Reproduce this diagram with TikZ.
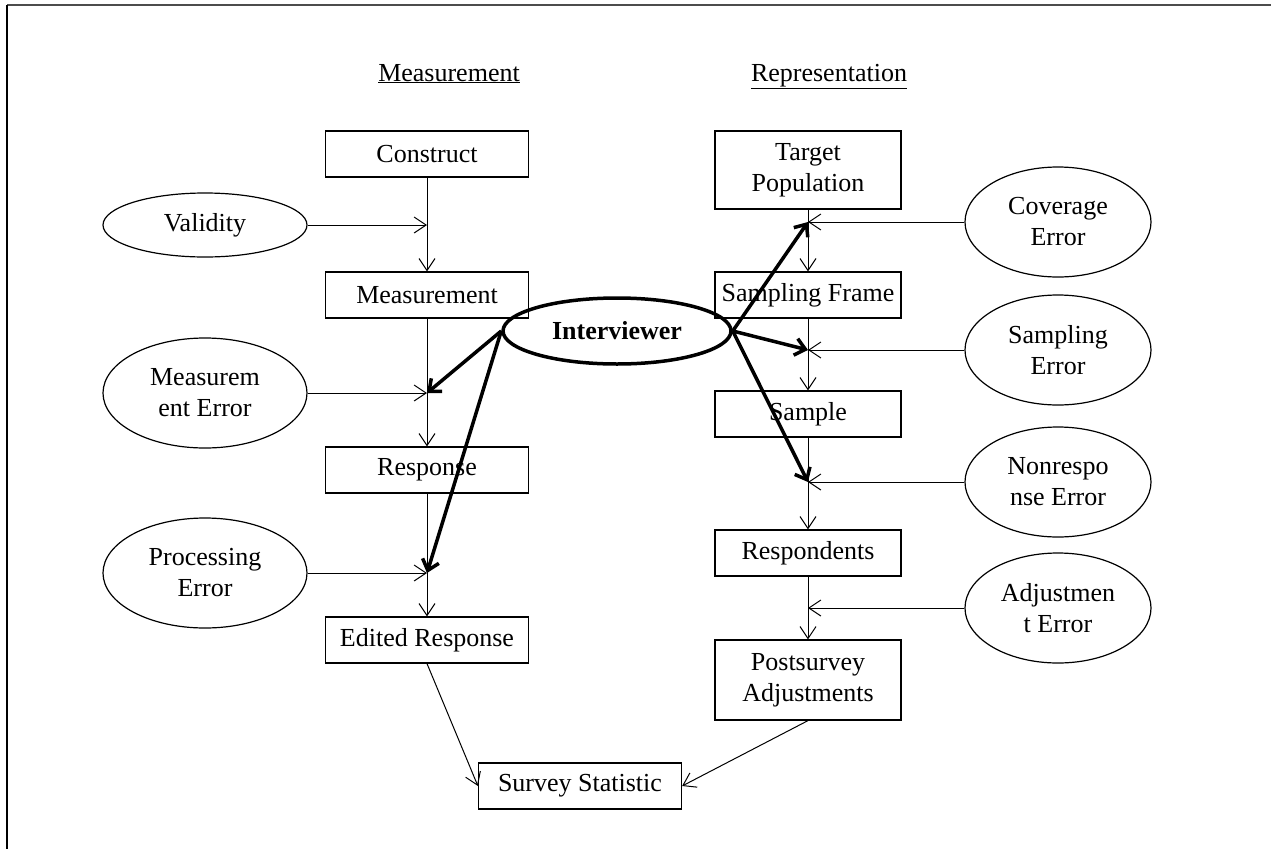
\documentclass[tikz,border=0pt]{standalone}
\usepackage{fontspec}
\setmainfont{Liberation Serif}
\usetikzlibrary{shapes.geometric,arrows.meta}

\begin{document}
\begin{tikzpicture}[x=1pt,y=-1pt,
  every node/.style={font=\fontsize{26}{31}\selectfont},
  box/.style={draw,line width=1.2pt,minimum height=46pt,align=center,inner sep=2pt},
  errbox/.style={draw,ellipse,line width=1.2pt,minimum width=204pt,minimum height=110pt,inner xsep=0pt,inner ysep=-14pt,align=center},
  flow/.style={line width=1pt,-{Straight Barb[length=12pt,width=16pt]}},
  iarr/.style={line width=3.5pt,-{Straight Barb[length=10pt,width=17pt]}}]
\useasboundingbox (0,0) rectangle (1271,849);
\draw[gray!60!black,line width=2pt] (7,5) -- (1271,5);
\draw[line width=2pt] (7,5) -- (7,849);

\node[anchor=base] (hm) at (449,81) {\underline{Measurement}};
\node[anchor=base] (hr) at (829,81) {\underline{Representation}};

% measurement side
\node[box,minimum width=203pt] (cons) at (427,154) {Construct};
\node[box,minimum width=203pt] (meas) at (427,295) {Measurement};
\node[box,minimum width=203pt] (resp) at (427,470) {Response};
\node[box,minimum width=203pt] (edit) at (427,640) {Edited Response};
\node[errbox,minimum height=64pt] (valid) at (205,225) {Validity};
\node[errbox] (merr) at (205,393) {Measurem\\ent Error};
\node[errbox] (perr) at (205,573) {Processing\\Error};

% representation side
\node[box,minimum width=186pt,minimum height=78pt] (tpop) at (808,170) {Target\\Population};
\node[box,minimum width=186pt] (frame) at (808,295) {Sampling Frame};
\node[box,minimum width=186pt] (samp) at (808,414) {Sample};
\node[box,minimum width=186pt] (resps) at (808,553) {Respondents};
\node[box,minimum width=186pt,minimum height=80pt] (post) at (808,680) {Postsurvey\\Adjustments};
\node[errbox,minimum width=186pt] (cerr) at (1058,222) {Coverage\\Error};
\node[errbox,minimum width=186pt] (serr) at (1058,350) {Sampling\\Error};
\node[errbox,minimum width=186pt] (nerr) at (1058,482) {Nonrespo\\nse Error};
\node[errbox,minimum width=186pt] (aerr) at (1058,608) {Adjustmen\\t Error};

\node[box,minimum width=203pt] (stat) at (580,786) {Survey Statistic};
\node[draw,ellipse,line width=3.5pt,minimum width=228pt,minimum height=66pt,
  font=\bfseries\fontsize{26}{31}\selectfont] (iv) at (617,331) {Interviewer};

\coordinate (jv) at (cons.south |- valid.east);
\coordinate (jme) at (cons.south |- merr.east);
\coordinate (jpe) at (cons.south |- perr.east);
\coordinate (jce) at (tpop.south |- cerr.west);
\coordinate (jse) at (tpop.south |- serr.west);
\coordinate (jne) at (tpop.south |- nerr.west);
\coordinate (jae) at (tpop.south |- aerr.west);

\draw[flow] (cons) -- (meas);
\draw[flow] (meas) -- (resp);
\draw[flow] (resp) -- (edit);
\draw[flow] (valid) -- (jv);
\draw[flow] (merr) -- (jme);
\draw[flow] (perr) -- (jpe);

\draw[flow] (tpop) -- (frame);
\draw[flow] (frame) -- (samp);
\draw[flow] (samp) -- (resps);
\draw[flow] (resps) -- (post);
\draw[flow] (cerr) -- (jce);
\draw[flow] (serr) -- (jse);
\draw[flow] (nerr) -- (jne);
\draw[flow] (aerr) -- (jae);

\draw[flow] (edit.south) -- (stat.west);
\draw[flow] (post.south) -- (stat.east);

\draw[iarr] (iv.west) -- (jme);
\draw[iarr] (iv.west) -- (jpe);
\draw[iarr] (iv.east) -- (jce);
\draw[iarr] (iv.east) -- (jse);
\draw[iarr] (iv.east) -- (jne);
\end{tikzpicture}
\end{document}
